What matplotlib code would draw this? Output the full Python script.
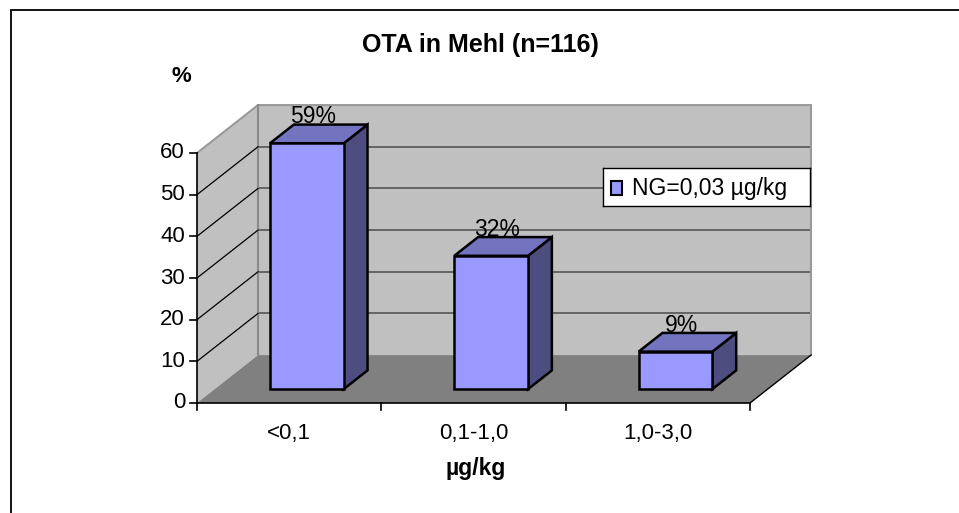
import matplotlib
matplotlib.use("Agg")
from matplotlib import pyplot as plt
from matplotlib.patches import Polygon, Rectangle

plt.rcParams['font.family'] = ['Liberation Sans', 'DejaVu Sans']

# data
categories = ["<0,1", "0,1-1,0", "1,0-3,0"]
values = [59, 32, 9]
value_labels = ["59%", "32%", "9%"]
y_ticks = [0, 10, 20, 30, 40, 50, 60]
title = "OTA in Mehl (n=116)"
legend_label = "NG=0,03 \u00b5g/kg"

# 3d look: depth offset of back wall in data units
DX = 0.331
DY = 11.5
YMAX = 60
NCAT = len(categories)
BAR_W = 0.40
D_FRONT, D_BACK = 0.29, 0.68

def P(x, y, d):
    return (x + d * DX, y + d * DY)

fig = plt.figure(figsize=(9.59, 5.13), dpi=100)
W, H = 959.0, 513.0
ax = fig.add_axes([197 / W, (H - 403) / H, 553 / W, 250 / H])
ax.set_xlim(0, NCAT)
ax.set_ylim(0, YMAX)
ax.axis("off")

# chart border
fig.add_artist(Rectangle((11 / W, -0.1), 1.2, (H - 10) / H + 0.1, transform=fig.transFigure,
                         fill=False, edgecolor="black", linewidth=1.3))

def poly(pts, fc, ec="none", lw=0, z=1):
    ax.add_patch(Polygon(pts, closed=True, facecolor=fc, edgecolor=ec, linewidth=lw,
                         zorder=z, clip_on=False, joinstyle="miter"))

# walls and floor
poly([P(0, 0, 0), P(0, YMAX, 0), P(0, YMAX, 1), P(0, 0, 1)], "#c0c0c0", z=1)
poly([P(0, 0, 1), P(NCAT, 0, 1), P(NCAT, YMAX, 1), P(0, YMAX, 1)], "#c0c0c0", z=1)
poly([P(0, 0, 0), P(NCAT, 0, 0), P(NCAT, 0, 1), P(0, 0, 1)], "#808080", z=2)

# wall edges
ax.plot(*zip(P(0, YMAX, 0), P(0, YMAX, 1), P(NCAT, YMAX, 1), P(NCAT, 0, 1)),
        color="#9a9a9a", lw=1.5, zorder=2, clip_on=False, solid_joinstyle="miter")
ax.plot(*zip(P(0, 0, 1), P(0, YMAX, 1)), color="#8a8a8a", lw=1.5, zorder=2, clip_on=False)

# gridlines
for v in y_ticks[1:-1]:
    ax.plot(*zip(P(0, v, 0), P(0, v, 1)), color="black", lw=0.9, zorder=3, clip_on=False)
    ax.plot(*zip(P(0, v, 1), P(NCAT, v, 1)), color="#555555", lw=1.2, zorder=1.5, clip_on=False)

# bars
for i, v in enumerate(values):
    x0 = i + 0.5 - BAR_W / 2
    x1 = i + 0.5 + BAR_W / 2
    front = [P(x0, 0, D_FRONT), P(x1, 0, D_FRONT), P(x1, v, D_FRONT), P(x0, v, D_FRONT)]
    top = [P(x0, v, D_FRONT), P(x1, v, D_FRONT), P(x1, v, D_BACK), P(x0, v, D_BACK)]
    side = [P(x1, 0, D_FRONT), P(x1, 0, D_BACK), P(x1, v, D_BACK), P(x1, v, D_FRONT)]
    poly(side, "#4d4d80", "black", 1.8, z=5)
    poly(top, "#7373bf", "black", 1.8, z=5)
    poly(front, "#9999ff", "black", 1.8, z=6)
    lx, _ = P(i + 0.5, v, D_FRONT + 0.1)
    _, ly = P(i + 0.5, v, D_BACK)
    ax.text(lx, ly + 0.3, value_labels[i], ha="center", va="baseline", fontsize=16.5, zorder=7)

# axes lines
ax.plot([0, 0], [0, YMAX], color="black", lw=1.2, zorder=4, clip_on=False)
ax.plot([0, NCAT], [0, 0], color="black", lw=1.2, zorder=4, clip_on=False)
ax.plot(*zip(P(NCAT, 0, 0), P(NCAT, 0, 1)), color="black", lw=1.0, zorder=4, clip_on=False)

# ticks
for v in y_ticks:
    ax.plot([-0.04, 0], [v, v], color="black", lw=1.2, zorder=4, clip_on=False)
    ax.text(-0.065, v, str(v), ha="right", va="center", fontsize=16)
for i in range(NCAT + 1):
    ax.plot([i, i], [0, -1.7], color="black", lw=1.2, zorder=4, clip_on=False)
for i, c in enumerate(categories):
    ax.text(i + 0.5, -7.4, c, ha="center", va="center", fontsize=16)

# titles
fig.text(480 / W, 1 - 45 / H, title, ha="center", va="center", fontsize=18, fontweight="bold")
fig.text(181 / W, 1 - 76 / H, "%", ha="center", va="center", fontsize=16, fontweight="bold")
fig.text(476 / W, 1 - 469 / H, "\u00b5g/kg", ha="center", va="center", fontsize=16.5, fontweight="bold")

# legend
lax = fig.add_axes([603 / W, 1 - 206 / H, 207 / W, 38 / H])
lax.set_xlim(0, 207)
lax.set_ylim(0, 38)
lax.set_xticks([])
lax.set_yticks([])
for s in lax.spines.values():
    s.set_linewidth(1.0)
lax.add_patch(Rectangle((8, 11), 11, 14, facecolor="#9999ff", edgecolor="black", lw=1.5))
lax.text(29, 18, legend_label, ha="left", va="center", fontsize=16.5)

fig.savefig("out.png", dpi=100)
